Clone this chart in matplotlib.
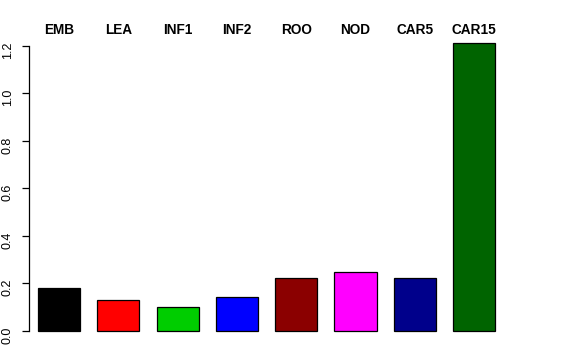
import matplotlib
matplotlib.use("Agg")
from matplotlib import pyplot as plt
from matplotlib import transforms

plt.rcParams["font.family"] = ["Liberation Sans", "DejaVu Sans"]

# values
tissues = ["EMB", "LEA", "INF1", "INF2", "ROO", "NOD", "CAR5", "CAR15"]
values = [0.181, 0.132, 0.102, 0.143, 0.222, 0.249, 0.222, 1.212]
colors = ["#000000", "#FF0000", "#00CD00", "#0000FF", "#8B0000", "#FF00FF", "#00008B", "#006400"]
yticks = [0.0, 0.2, 0.4, 0.6, 0.8, 1.0, 1.2]

fig = plt.figure(figsize=(5.76, 3.6), dpi=100)
ax = fig.add_axes([29 / 576, 1 - 342.4 / 360, (504 - 29) / 576, (342.4 - 31.9) / 360])

pos = list(range(len(tissues)))
ax.bar(pos, values, width=0.71, color=colors, edgecolor="black", linewidth=0.9)
ax.set_xlim(-0.506, 7.504)
ax.set_ylim(-0.048, 1.258)

for side in ["top", "right", "bottom"]:
    ax.spines[side].set_visible(False)
ax.spines["left"].set_bounds(0, 1.2)
ax.spines["left"].set_linewidth(0.9)
ax.set_xticks([])
ax.set_yticks(yticks)
ax.set_yticklabels(["%.1f" % t for t in yticks], rotation=90, fontsize=9)
ax.tick_params(axis="y", length=5, width=0.9, pad=6)

# labels above the bars, x in data units, y in figure units
trans = transforms.blended_transform_factory(ax.transData, fig.transFigure)
for p, name in zip(pos, tissues):
    ax.text(p, 1 - 30 / 360, name, transform=trans,
            ha="center", va="center", fontsize=9.8, fontweight="bold")

fig.savefig("out.png", dpi=100)
